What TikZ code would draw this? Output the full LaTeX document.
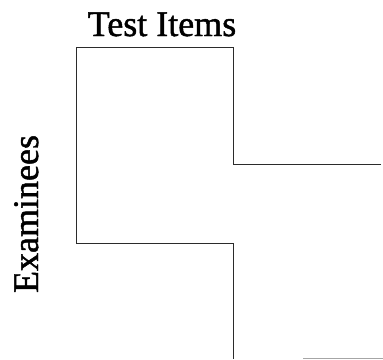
\documentclass[tikz,border=0pt]{standalone}
\usepackage{fontspec}
\setmainfont{Liberation Serif}
\newfontfamily\scanfont[FakeBold=1.3]{Liberation Serif}
\usepackage{tikz}
\usetikzlibrary{positioning}
\definecolor{FrameInk}{HTML}{2B2B2B}

\begin{document}
\begin{tikzpicture}[x=1pt,y=-1pt]
  \useasboundingbox (0,0) rectangle (383,359);
  \tikzset{axislabel/.style={font=\scanfont\fontsize{36}{40}\selectfont,inner sep=0pt,anchor=base}}
  % axis labels
  \node[axislabel] (items) at (162,36) {Test Items};
  \node[axislabel,rotate=90] (examinees) at (38,214) {Examinees};
  % block outline
  \coordinate (tl) at (76,47);
  \coordinate (tr) at (233,47);
  \coordinate (mid) at (233,164);
  \coordinate (midend) at (381,164);
  \coordinate (bl) at (76,243);
  \coordinate (br) at (233,243);
  \coordinate (low) at (233,359);
  \draw[FrameInk,line width=0.9pt] (midend) -- (mid) -- (tr) -- (tl) -- (bl) -- (br) -- (low);
  \draw[black!35,line width=0.9pt] (303,358) -- (383,358);
\end{tikzpicture}
\end{document}
